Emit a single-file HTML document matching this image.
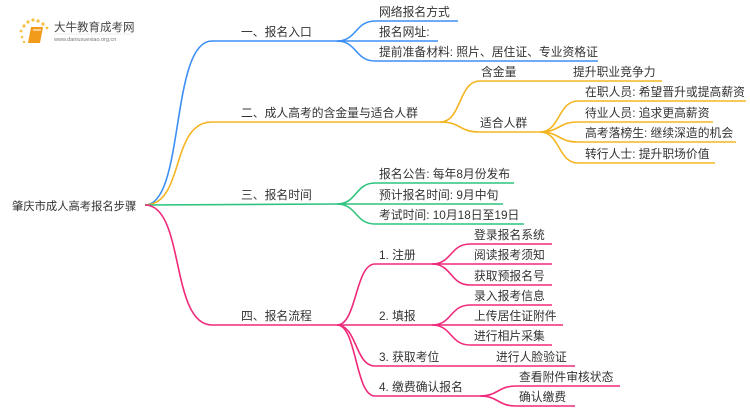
<!DOCTYPE html>
<html><head><meta charset="utf-8"><style>
html,body{margin:0;padding:0;background:#fff;}
svg{display:block}
text{font-family:"Liberation Sans","Noto Sans CJK SC",sans-serif;font-size:11.8px;fill:#333;}
</style></head><body>
<svg width="750" height="410" viewBox="0 0 750 410" xmlns="http://www.w3.org/2000/svg">
<g fill="none" stroke-width="1.6">
<g stroke="#3b8ff5">
<path d="M145,205 C185,205 170,41 212,41 L337,41"/>
<path d="M337,41 C357,41 355,21 375,21 L458,21"/>
<path d="M337,41 L438,41"/>
<path d="M337,41 C357,41 355,61 375,61 L598,61"/>
</g>
<g stroke="#f5b523">
<path d="M145,205 C185,205 170,122 212,122 L440,122"/>
<path d="M440,122 C462,122 458,81 480,81 L662,81"/>
<path d="M440,122 C462,122 458,132 480,132 L540,132"/>
<path d="M540,132 C560,132 558,101 578,101 L746,101"/>
<path d="M540,132 C560,132 558,122 578,122 L713,122"/>
<path d="M540,132 C560,132 558,142 578,142 L736,142"/>
<path d="M540,132 C560,132 558,163 578,163 L715,163"/>
</g>
<g stroke="#2ec37f">
<path d="M145,205 L337,204"/>
<path d="M337,204 C357,204 355,183 375,183 L514,183"/>
<path d="M337,204 L503,204"/>
<path d="M337,204 C357,204 355,224 375,224 L524,224"/>
</g>
<g stroke="#f0297a">
<path d="M145,205 C185,205 170,325 212,325 L337,325"/>
<path d="M337,325 C357,325 355,264 375,264 L432,264"/>
<path d="M337,325 L432,325"/>
<path d="M337,325 C357,325 355,366 375,366 L575,366"/>
<path d="M337,325 C357,325 355,396 375,396 L480,396"/>
<path d="M432,264 C452,264 450,244 470,244 L552,244"/>
<path d="M432,264 L552,264"/>
<path d="M432,264 C452,264 450,285 470,285 L552,285"/>
<path d="M432,325 C452,325 450,305 470,305 L552,305"/>
<path d="M432,325 L563,325"/>
<path d="M432,325 C452,325 450,345 470,345 L552,345"/>
<path d="M480,396 C498,396 498,386 516,386 L620,386"/>
<path d="M480,396 C498,396 498,406 516,406 L575,406"/>
</g>
</g>
<g>
<circle cx="24" cy="26" r="1.6" fill="#f8c040"/><circle cx="28" cy="22" r="1.6" fill="#f8c040"/><circle cx="33" cy="20" r="1.6" fill="#f8c040"/><circle cx="38" cy="21" r="1.6" fill="#f8c040"/><circle cx="43" cy="24" r="1.6" fill="#f8c040"/><circle cx="47" cy="28" r="1.4" fill="#f8c040"/><circle cx="21" cy="31" r="1.4" fill="#f8c040"/><circle cx="22" cy="37" r="1.3" fill="#f8c040"/><circle cx="24" cy="42" r="1.2" fill="#f8c040"/>
<path d="M31,27 L43,27 L40,43 L28,43 Z" fill="#f29a1a"/>
<path d="M33,30 L41,30" stroke="#fff" stroke-width="1.5" opacity="0.7"/>
<text x="54" y="31" style="font-size:11.5px;fill:#444">大牛教育成考网</text>
<text x="54" y="41" style="font-size:5.5px;fill:#777">www.daniuxuexiao.org.cn</text>
<line x1="54" y1="34" x2="132" y2="34" stroke="#ddd" stroke-width="0.6"/>
</g>
<text x="12" y="210" style="font-size:11.3px">肇庆市成人高考报名步骤</text>
<text x="241" y="36">一、报名入口</text>
<text x="241" y="117">二、成人高考的含金量与适合人群</text>
<text x="241" y="199">三、报名时间</text>
<text x="241" y="320">四、报名流程</text>
<text x="379" y="16">网络报名方式</text>
<text x="379" y="36">报名网址:</text>
<text x="379" y="56">提前准备材料: 照片、居住证、专业资格证</text>
<text x="481" y="76">含金量</text>
<text x="573" y="76">提升职业竞争力</text>
<text x="480" y="127">适合人群</text>
<text x="585" y="96">在职人员: 希望晋升或提高薪资</text>
<text x="585" y="117">待业人员: 追求更高薪资</text>
<text x="585" y="137">高考落榜生: 继续深造的机会</text>
<text x="585" y="158">转行人士: 提升职场价值</text>
<text x="379" y="178">报名公告: 每年8月份发布</text>
<text x="379" y="199">预计报名时间: 9月中旬</text>
<text x="379" y="219">考试时间: 10月18日至19日</text>
<text x="379" y="259">1. 注册</text>
<text x="379" y="320">2. 填报</text>
<text x="379" y="361">3. 获取考位</text>
<text x="379" y="391">4. 缴费确认报名</text>
<text x="474" y="239">登录报名系统</text>
<text x="474" y="259">阅读报考须知</text>
<text x="474" y="280">获取预报名号</text>
<text x="474" y="300">录入报考信息</text>
<text x="474" y="320">上传居住证附件</text>
<text x="474" y="340">进行相片采集</text>
<text x="496" y="361">进行人脸验证</text>
<text x="519" y="381">查看附件审核状态</text>
<text x="519" y="401">确认缴费</text>
</svg>
</body></html>
